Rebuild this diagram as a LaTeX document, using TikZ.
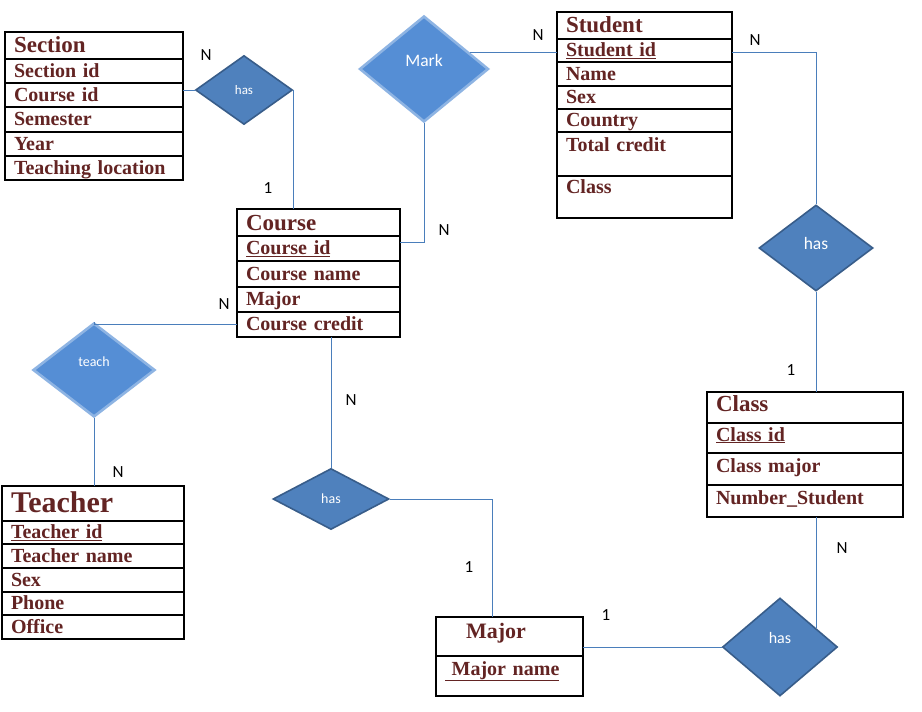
\documentclass[tikz,border=0pt]{standalone}
\usepackage{fontspec}
\setmainfont{Liberation Serif}
\newfontfamily\calibfont{Carlito}
\usetikzlibrary{shapes.geometric,calc}
\definecolor{attrred}{HTML}{632423}
\definecolor{relfill}{HTML}{4F81BD}
\definecolor{reldark}{HTML}{385D8A}
\definecolor{wkfill}{HTML}{558ED5}
\definecolor{wkborder}{HTML}{8EB4E3}
\definecolor{linkblue}{HTML}{4A7EBB}
\tikzset{
  row/.style={draw=black, line width=1.2pt, anchor=north west, outer sep=0pt,
    inner xsep=9pt, inner ysep=0pt, align=left, text=attrred,
    text height=17pt, text depth=5pt, font=\fontsize{20}{22}\selectfont\bfseries},
  head/.style={row, text height=20pt, text depth=6pt, font=\fontsize{23}{25}\selectfont\bfseries},
  sec/.style={text width=160pt},
  stu/.style={text width=157pt},
  crs/.style={text width=145pt},
  tch/.style={text width=164pt},
  cls/.style={text width=178pt},
  mjr/.style={text width=129pt},
  rel/.style={diamond, draw=reldark, line width=1.6pt, fill=relfill, inner sep=0pt, text=white},
  weakrel/.style={rel, draw=wkborder, line width=2.6pt, fill=wkfill},
  link/.style={draw=linkblue, line width=0.9pt},
  card/.style={font=\calibfont\fontsize{17}{19}\selectfont}
}
\begin{document}
\begin{tikzpicture}[x=1pt, y=-1pt]
    \fill[white] (0,0) rectangle (922,712);
    \useasboundingbox (0,0) rectangle (922,712);
    % SECTION
    \node[head, sec, minimum height=27] (sec1) at (5,32) {Section};
    \node[row, sec, minimum height=24] (sec2) at (sec1.south west) {Section id};
    \node[row, sec, minimum height=24] (sec3) at (sec2.south west) {Course id};
    \node[row, sec, minimum height=25] (sec4) at (sec3.south west) {Semester};
    \node[row, sec, minimum height=24] (sec5) at (sec4.south west) {Year};
    \node[row, sec, minimum height=24] (sec6) at (sec5.south west) {Teaching location};
    % STUDENT
    \node[head, stu, minimum height=27] (stu1) at (557,12) {Student};
    \node[row, stu, minimum height=23] (stu2) at (stu1.south west) {\underline{Student id}};
    \node[row, stu, minimum height=24] (stu3) at (stu2.south west) {Name};
    \node[row, stu, minimum height=23] (stu4) at (stu3.south west) {Sex};
    \node[row, stu, minimum height=23] (stu5) at (stu4.south west) {Country};
    \node[row, stu, minimum height=44, text height=19pt, text depth=25pt] (stu6) at (stu5.south west) {Total credit};
    \node[row, stu, minimum height=42, text height=17pt, text depth=25pt] (stu7) at (stu6.south west) {Class};
    % COURSE
    \node[head, crs, minimum height=27, text height=21pt, text depth=6pt] (crs1) at (237,209) {Course};
    \node[row, crs, minimum height=25] (crs2) at (crs1.south west) {\underline{Course id}};
    \node[row, crs, minimum height=26] (crs3) at (crs2.south west) {Course name};
    \node[row, crs, minimum height=25] (crs4) at (crs3.south west) {Major};
    \node[row, crs, minimum height=25] (crs5) at (crs4.south west) {Course credit};
    % TEACHER
    \node[head, tch, minimum height=35, text height=26pt, text depth=8pt, font=\fontsize{30}{32}\selectfont\bfseries] (tch1) at (2,486) {Teacher};
    \node[row, tch, minimum height=23] (tch2) at (tch1.south west) {\underline{Teacher id}};
    \node[row, tch, minimum height=24] (tch3) at (tch2.south west) {Teacher name};
    \node[row, tch, minimum height=24] (tch4) at (tch3.south west) {Sex};
    \node[row, tch, minimum height=23] (tch5) at (tch4.south west) {Phone};
    \node[row, tch, minimum height=24] (tch6) at (tch5.south west) {Office};
    % CLASS
    \node[head, cls, minimum height=31, text height=18pt, text depth=10pt] (cls1) at (707,392) {Class};
    \node[row, cls, minimum height=30, text depth=11pt] (cls2) at (cls1.south west) {\underline{Class id}};
    \node[row, cls, minimum height=32, text depth=11pt] (cls3) at (cls2.south west) {Class major};
    \node[row, cls, minimum height=32, text depth=11pt] (cls4) at (cls3.south west) {Number\_Student};
    % MAJOR
    \node[head, mjr, minimum height=39, text height=21pt, text depth=18pt, font=\fontsize{22}{24}\selectfont\bfseries] (mjr1) at (436,617) {\hspace*{21pt}Major};
    \node[row, mjr, minimum height=40, text height=19pt, text depth=21pt] (mjr2) at (mjr1.south west) {\underline{\ Major name}};
    % RELATIONSHIPS
    \node[rel, minimum width=97, minimum height=69, font=\calibfont\fontsize{13}{15}\selectfont] (sechas) at (244,90) {has};
    \node[weakrel, minimum width=129, minimum height=106, text height=10pt, text depth=15pt, font=\calibfont\fontsize{17.5}{19}\selectfont] (mark) at (424,69) {Mark};
    \node[rel, minimum width=114, minimum height=86, text height=10pt, text depth=7pt, font=\calibfont\fontsize{17.5}{19}\selectfont] (stuhas) at (816,248) {has};
    \node[weakrel, minimum width=122, minimum height=94, text height=10pt, text depth=17pt, font=\calibfont\fontsize{14}{16}\selectfont] (teach) at (94,370) {teach};
    \node[rel, minimum width=116, minimum height=61, font=\calibfont\fontsize{14}{16}\selectfont] (crshas) at (331,499) {has};
    \node[rel, minimum width=115, minimum height=98, text height=10pt, text depth=18pt, font=\calibfont\fontsize{16}{18}\selectfont] (majhas) at (780,647) {has};
    % CONNECTORS
    \draw[link] (sechas.west) -- (sechas.west -| sec3.east);
    \draw[link] (sechas.east) -- (sechas.east |- crs1.north);
    \draw[link] (mark.20) -- (mark.20 -| stu2.west);
    \draw[link] (mark.south) |- ($(crs2.east)+(0,-6)$);
    \draw[link] ($(stu2.east)+(0,2)$) -| (stuhas.north);
    \draw[link] (stuhas.south) -- (stuhas.south |- cls1.north);
    \draw[link] (majhas.27 |- cls4.south) -- (majhas.27);
    \draw[link] (majhas.west) -- (majhas.west -| mjr1.east);
    \draw[link] (crshas.east) -| ($(mjr1.north)+(-17,0)$);
    \draw[link] (crshas.north) -- (crshas.north |- crs5.south);
    \draw[link] (crs5.west) -| (teach.north);
    \draw[link] (teach.south) -- (teach.south |- tch1.north);
    % CARDINALITIES
    \node[card] (c1) at (206,55) {N};
    \node[card] (c2) at (268,188) {1};
    \node[card] (c3) at (538,35) {N};
    \node[card] (c4) at (755,40) {N};
    \node[card] (c5) at (444,230) {N};
    \node[card] (c6) at (224,304) {N};
    \node[card] (c7) at (351,400) {N};
    \node[card] (c8) at (118,472) {N};
    \node[card] (c9) at (791,370) {1};
    \node[card] (c10) at (842,548) {N};
    \node[card] (c11) at (469,567) {1};
    \node[card] (c12) at (606,615) {1};
\end{tikzpicture}
\end{document}
